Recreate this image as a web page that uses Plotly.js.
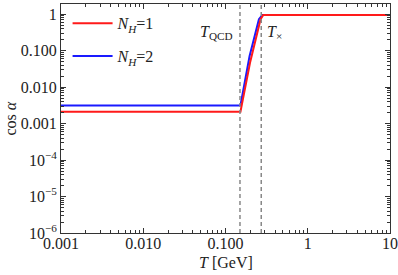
<!DOCTYPE html>
<html><head><meta charset="utf-8">
<script src="https://cdn.plot.ly/plotly-3.0.1.min.js"></script>
<style>html,body{margin:0;padding:0;background:#fff}#c{width:398px;height:275px}</style>
</head><body><div id="c"></div>
<script>
var T1 = [0.001, 0.152, 0.200, 0.267, 0.288, 10];
var cos1 = [0.00213, 0.00213, 0.05, 0.73, 0.95, 0.95];
var T2 = [0.001, 0.152, 0.196, 0.255, 0.281, 10];
var cos2 = [0.00316, 0.00316, 0.07, 0.73, 0.95, 0.95];
var Tqcd = 0.15, Tx = 0.272;
var xtickvals = [0.001, 0.01, 0.1, 1, 10];
var xticktext = ['0.001', '0.010', '0.100', '1', '10'];
var ytickvals = [1, 0.1, 0.01, 0.001, 1e-4, 1e-5, 1e-6];
var yticktext = ['1', '0.100', '0.010', '0.001', '10<sup>−4</sup>', '10<sup>−5</sup>', '10<sup>−6</sup>'];

var F = 'Liberation Serif';
var S = 16;
var traces = [
  {x: T2, y: cos2, mode: 'lines', name: '<i>N<sub>H</sub></i>=2', legendgroup: 'b', legendrank: 2,
   line: {color: '#1a1aff', width: 2}},
  {x: T1, y: cos1, mode: 'lines', name: '<i>N<sub>H</sub></i>=1', legendgroup: 'a', legendrank: 1,
   line: {color: '#ff1a1a', width: 2}}
];
var axcommon = {
  type: 'log', showgrid: false, zeroline: false, showline: true, mirror: 'allticks',
  linecolor: '#333', linewidth: 1, ticks: 'inside', ticklen: 5, tickcolor: '#333',
  tickfont: {family: F, size: S, color: '#222'},
  minor: {ticks: 'inside', ticklen: 3, tickcolor: '#333', dtick: 'D1', showgrid: false}
};
var layout = {
  width: 398, height: 275,
  margin: {l: 61, r: 8, t: 4, b: 42},
  paper_bgcolor: '#fff', plot_bgcolor: '#fff',
  font: {family: F, size: S, color: '#222'},
  showlegend: true,
  legend: {x: 0.02, y: 0.99, xanchor: 'left', yanchor: 'top', bgcolor: 'rgba(0,0,0,0)',
           traceorder: 'grouped', tracegroupgap: 9, font: {family: F, size: S, color: '#222'},
           itemwidth: 40},
  xaxis: Object.assign({}, axcommon, {range: [-3, 1], tickvals: xtickvals, ticktext: xticktext, ticklabelstandoff: -4}),
  yaxis: Object.assign({}, axcommon, {range: [-6, 0.28], tickvals: ytickvals, ticktext: yticktext}),
  shapes: [
    {type: 'line', xref: 'x', yref: 'paper', x0: Tqcd, x1: Tqcd, y0: 0, y1: 1,
     line: {color: '#888', width: 1.5, dash: '4px,3px'}},
    {type: 'line', xref: 'x', yref: 'paper', x0: Tx, x1: Tx, y0: 0, y1: 1,
     line: {color: '#888', width: 1.5, dash: '4px,3px'}}
  ],
  annotations: [
    {x: Math.log10(Tqcd), y: 1, xref: 'x', yref: 'paper', yanchor: 'middle', xanchor: 'right', xshift: -5, yshift: -28,
     text: '<i>T</i><sub>QCD</sub>', showarrow: false, font: {family: F, size: S, color: '#222'}},
    {x: Math.log10(Tx), y: 1, xref: 'x', yref: 'paper', yanchor: 'middle', xanchor: 'left', xshift: 4, yshift: -28,
     text: '<i>T</i><sub>×</sub>', showarrow: false, font: {family: F, size: S, color: '#222'}},
    {x: 0.5, y: 0, xref: 'paper', yref: 'paper', xanchor: 'center', yanchor: 'middle', yshift: -29,
     text: '<i>T</i> [GeV]', showarrow: false, font: {family: F, size: S, color: '#222'}},
    {x: 0, y: 0.5, xref: 'paper', yref: 'paper', xanchor: 'center', yanchor: 'middle', xshift: -51, textangle: -90,
     text: 'cos <i>α</i>', showarrow: false, font: {family: F, size: S, color: '#222'}}
  ]
};
Plotly.newPlot('c', traces, layout, {staticPlot: true});
</script></body></html>
